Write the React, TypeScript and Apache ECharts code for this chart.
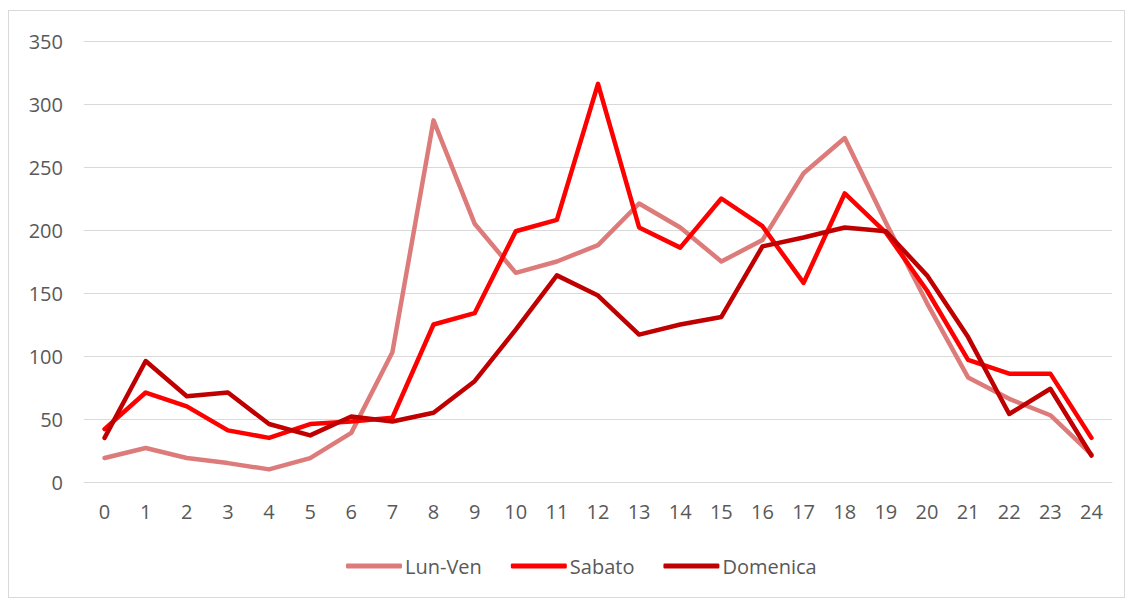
import React, { useEffect, useRef } from "react";
import * as echarts from "echarts";

const hours = ["0","1","2","3","4","5","6","7","8","9","10","11","12","13","14","15","16","17","18","19","20","21","22","23","24"];
const lunVen = [19, 27, 19, 15, 10, 19, 39, 103, 287, 205, 166, 175, 188, 221, 202, 175, 192, 245, 273, 206, 142, 83, 66, 53, 22];
const sabato = [42, 71, 60, 41, 35, 46, 48, 51, 125, 134, 199, 208, 316, 202, 186, 225, 203, 158, 229, 198, 152, 97, 86, 86, 35];
const domenica = [35, 96, 68, 71, 46, 37, 52, 48, 55, 80, 121, 164, 148, 117, 125, 131, 187, 194, 202, 199, 164, 115, 54, 74, 21];
const seriesNames = ["Lun-Ven", "Sabato", "Domenica"];
const colors = ["#dd7b7b", "#ff0000", "#c00000"];

export default function App() {
  const ref = useRef<HTMLDivElement>(null);
  useEffect(() => {
    if (!ref.current) return;
    const chart = echarts.init(ref.current, null, { renderer: "svg" });
    const font = "Open Sans, Liberation Sans, sans-serif";
    const data = [lunVen, sabato, domenica];
    chart.setOption({
      animation: false,
      color: colors,
      grid: { left: 75, right: 12, top: 30, bottom: 115, containLabel: false },
      legend: {
        bottom: 16,
        left: 332,
        icon: "roundRect",
        itemWidth: 56,
        itemHeight: 5,
        itemGap: 29,
        textStyle: { color: "#595959", fontSize: 20, fontFamily: font, padding: [0, 0, 0, -2] },
        data: seriesNames,
      },
      xAxis: {
        type: "category",
        data: hours,
        boundaryGap: true,
        axisLine: { show: true, lineStyle: { color: "#d9d9d9", width: 1 } },
        axisTick: { show: false },
        axisLabel: { color: "#595959", fontSize: 20, fontFamily: font, margin: 19 },
      },
      yAxis: {
        type: "value",
        min: 0,
        max: 350,
        interval: 50,
        axisLine: { show: false },
        axisTick: { show: false },
        splitLine: { lineStyle: { color: "#d9d9d9", width: 1 } },
        axisLabel: { color: "#595959", fontSize: 20, fontFamily: font, margin: 21 },
      },
      series: data.map((d, i) => ({
        name: seriesNames[i],
        type: "line",
        data: d,
        symbol: "none",
        lineStyle: { width: 4.5, color: colors[i], cap: "round", join: "round" },
        itemStyle: { color: colors[i] },
      })),
    });
    return () => chart.dispose();
  }, []);
  return (
    <div
      ref={ref}
      style={{
        width: 1117,
        height: 588,
        marginTop: 2,
        border: "1px solid #d9d9d9",
        boxSizing: "border-box",
        background: "#fff",
      }}
    />
  );
}
